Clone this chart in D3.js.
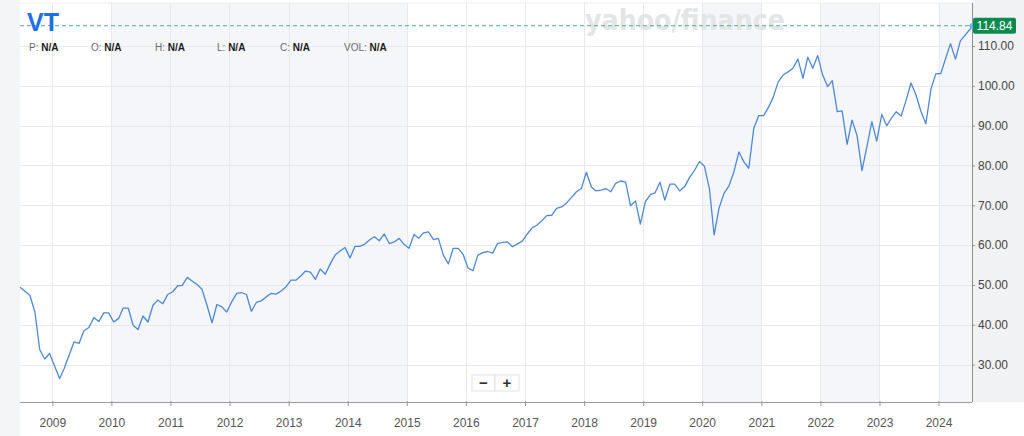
<!DOCTYPE html>
<html>
<head>
<meta charset="utf-8">
<script src="https://cdn.jsdelivr.net/npm/d3@7"></script>
<style>
  html, body { margin: 0; padding: 0; background: #ffffff; }
  svg { display: block; font-family: Arial, "Liberation Sans", Helvetica, sans-serif; }
</style>
</head>
<body>
<svg id="chart" width="1024" height="436"></svg>
<script>
// ---- data ----
const ticker = "VT";
const lastPrice = 114.84;
const startMonth = "2008-06";
const prices = [
  // 2008 Jun-Dec
  49.4, 48.4, 47.4, 43.2, 33.8, 31.4, 32.8,
  // 2009
  29.6, 26.5, 29.0, 32.4, 35.7, 35.3, 38.5, 39.3, 41.8, 40.8, 43.0, 43.0,
  // 2010
  40.7, 41.6, 44.2, 44.2, 39.9, 38.8, 42.2, 40.7, 44.9, 46.2, 45.3, 47.6,
  // 2011
  48.3, 49.8, 49.9, 51.9, 51.0, 50.1, 48.9, 44.9, 40.5, 45.1, 44.5, 43.2,
  // 2012
  45.8, 47.9, 48.1, 47.6, 43.4, 45.6, 46.0, 47.0, 47.9, 47.7, 48.5, 49.5,
  // 2013
  51.2, 51.2, 52.2, 53.5, 53.2, 51.4, 54.0, 52.7, 55.3, 57.5, 58.5, 59.4,
  // 2014
  56.8, 59.7, 59.7, 60.2, 61.3, 62.1, 61.1, 62.8, 60.4, 60.8, 61.7, 60.2,
  // 2015
  59.2, 62.7, 61.7, 63.1, 63.3, 61.4, 61.7, 57.5, 55.3, 59.2, 59.2, 57.7,
  // 2016
  54.2, 53.6, 57.5, 58.1, 58.4, 58.0, 60.4, 60.7, 60.8, 59.6, 60.3, 61.0,
  // 2017
  62.8, 64.4, 65.0, 66.1, 67.4, 67.5, 69.2, 69.6, 70.6, 72.0, 73.4, 74.2,
  // 2018
  78.3, 74.6, 73.6, 73.8, 74.2, 73.4, 75.5, 76.1, 75.8, 69.9, 71.1, 65.3,
  // 2019
  70.9, 72.7, 73.1, 75.8, 71.3, 75.3, 75.3, 73.6, 74.7, 77.0, 78.8, 81.0,
  // 2020
  79.8, 74.1, 62.6, 69.4, 73.0, 74.9, 78.4, 83.4, 80.9, 79.3, 89.3, 92.5,
  // 2021
  92.5, 94.7, 97.1, 101.0, 102.7, 103.5, 104.4, 106.7, 101.9, 107.2, 104.4, 107.6,
  // 2022
  102.7, 99.8, 101.3, 93.5, 93.7, 85.3, 91.4, 87.6, 78.7, 84.7, 91.0, 86.1,
  // 2023
  92.8, 90.0, 91.8, 93.5, 92.4, 96.4, 100.7, 97.7, 93.5, 90.5, 99.1, 103.0,
  // 2024 Jan-Jul
  103.1, 107.0, 110.6, 106.7, 111.3, 112.8, 114.84
];
const yearTicks = [2009, 2010, 2011, 2012, 2013, 2014, 2015, 2016, 2017, 2018, 2019, 2020, 2021, 2022, 2023, 2024];
const priceTicks = [30, 40, 50, 60, 70, 80, 90, 100, 110];
const shadedPeriods = [[2010, 2015], [2020, 2021], [2022, 2023], [2024, 2025]];
const infoLabels = [["P:", "N/A"], ["O:", "N/A"], ["H:", "N/A"], ["L:", "N/A"], ["C:", "N/A"], ["VOL:", "N/A"]];

(function () {
// ---- build series ----
const parseM = d3.timeParse("%Y-%m");
const first = d3.timeDay.offset(parseM(startMonth), 14);
const series = prices.map((v, i) => ({ date: d3.timeMonth.offset(first, i), value: v }));
series[series.length - 1].date = new Date(2024, 6, 26);

const svg = d3.select("#chart");
const W = 1024, H = 436;
const pL = 20, pR = 972, pT = 3, pB = 402;

const x = d3.scaleTime()
  .domain([series[0].date, series[series.length - 1].date])
  .range([pL, pR]);
const y = d3.scaleLinear().domain([30, 110]).range([364.6, 46]);

// backgrounds
svg.append("rect").attr("x", 0).attr("y", 0).attr("width", pL).attr("height", H).attr("fill", "#f4f5f7");
svg.append("rect").attr("x", pR).attr("y", 0).attr("width", W - pR).attr("height", pB).attr("fill", "#f1f2f4");

// shaded periods
svg.append("g").selectAll("rect").data(shadedPeriods).join("rect")
  .attr("x", d => Math.max(pL, x(new Date(d[0], 0, 1))))
  .attr("width", d => Math.min(pR, x(new Date(d[1], 0, 1))) - Math.max(pL, x(new Date(d[0], 0, 1))))
  .attr("y", pT).attr("height", pB - pT)
  .attr("fill", "#f4f6fa");

// top border
svg.append("line").attr("x1", pL).attr("x2", pR).attr("y1", pT).attr("y2", pT)
  .attr("stroke", "#eceef1");

// horizontal grid
svg.append("g").selectAll("line").data(priceTicks).join("line")
  .attr("x1", pL).attr("x2", pR)
  .attr("y1", d => Math.round(y(d)) + 0.5).attr("y2", d => Math.round(y(d)) + 0.5)
  .attr("stroke", "#e7e9ee").attr("stroke-width", 1);

// vertical grid
svg.append("g").selectAll("line").data(yearTicks).join("line")
  .attr("x1", d => Math.round(x(new Date(d, 0, 1))) + 0.5)
  .attr("x2", d => Math.round(x(new Date(d, 0, 1))) + 0.5)
  .attr("y1", pT).attr("y2", pB)
  .attr("stroke", "#e7e9ee").attr("stroke-width", 1);

// watermark
svg.append("text").attr("x", 585).attr("y", 30)
  .attr("font-size", 28).attr("font-weight", 900).attr("fill", "#e4e5e7")
  .attr("font-family", "'DejaVu Sans', Arial, sans-serif")
  .attr("textLength", 200).attr("lengthAdjust", "spacingAndGlyphs")
  .text("yahoo/finance");

// x axis
const xAxis = d3.axisBottom(x)
  .tickValues(yearTicks.map(yr => new Date(yr, 0, 1)))
  .tickFormat(d3.timeFormat("%Y"))
  .tickSize(5).tickSizeOuter(0);
const gx = svg.append("g").attr("transform", `translate(0,${pB})`).call(xAxis);
gx.select(".domain").attr("stroke", "#9a9a9a").attr("d", `M${pL},0.5H${pR}`);
gx.selectAll(".tick line").attr("stroke", "#9a9a9a").attr("y1", -1).attr("y2", 4);
gx.selectAll(".tick text").attr("fill", "#555").attr("font-size", 12).attr("dy", "1.45em")
  .attr("font-family", "Arial, 'Liberation Sans', sans-serif");

// y axis
const yAxis = d3.axisRight(y).tickValues(priceTicks).tickFormat(d3.format(".2f")).tickSize(3).tickSizeOuter(0);
const gy = svg.append("g").attr("transform", `translate(${pR},0)`).call(yAxis);
gy.select(".domain").attr("stroke", "#8f8f8f").attr("d", `M0.5,${pT}V${pB}`);
gy.selectAll(".tick line").attr("stroke", "#8f8f8f");
gy.selectAll(".tick text").attr("fill", "#464646").attr("font-size", 12).attr("x", 6)
  .attr("font-family", "Arial, 'Liberation Sans', sans-serif");

// price line
const line = d3.line().x(d => x(d.date)).y(d => y(d.value));
svg.append("path").datum(series).attr("d", line)
  .attr("fill", "none").attr("stroke", "#4d88d6").attr("stroke-width", 1.3)
  .attr("stroke-linejoin", "round");

// last price dashed line
const yLast = y(lastPrice) - 1;
svg.append("line").attr("x1", pL).attr("x2", pR).attr("y1", yLast).attr("y2", yLast)
  .attr("stroke", "#53ab8c").attr("stroke-width", 1).attr("stroke-dasharray", "4,3");
svg.append("circle").attr("cx", pR).attr("cy", yLast).attr("r", 2.5).attr("fill", "#5db4e6");

// price badge
svg.append("rect").attr("x", pR + 1).attr("y", yLast - 8).attr("width", 43).attr("height", 16)
  .attr("rx", 2).attr("fill", "#0c8a4f");
svg.append("text").attr("x", pR + 22.5).attr("y", yLast + 4.3).attr("text-anchor", "middle")
  .attr("fill", "#fff").attr("font-size", 12).attr("font-family", "Arial, 'Liberation Sans', sans-serif")
  .text(d3.format(".2f")(lastPrice));

// title
svg.append("text").attr("x", 27).attr("y", 31).attr("font-size", 25).attr("font-weight", 600)
  .attr("fill", "#1f6fe5").attr("font-family", "Arial, 'Liberation Sans', sans-serif").text(ticker);

// info row
const infoX = [29, 91, 155, 217, 280, 344];
const info = svg.append("g").attr("font-size", 10).attr("font-family", "Arial, 'Liberation Sans', sans-serif");
infoLabels.forEach((d, i) => {
  const t = info.append("text").attr("x", infoX[i]).attr("y", 51);
  t.append("tspan").attr("fill", "#6b6b6b").text(d[0] + " ");
  t.append("tspan").attr("fill", "#1b1b1b").attr("font-weight", 700).text(d[1]);
});

// zoom buttons
const zb = svg.append("g");
zb.append("rect").attr("x", 472).attr("y", 375).attr("width", 23).attr("height", 16)
  .attr("fill", "#fff").attr("stroke", "#e3e3e3");
zb.append("rect").attr("x", 495).attr("y", 375).attr("width", 24).attr("height", 16)
  .attr("fill", "#fff").attr("stroke", "#e3e3e3");
zb.append("text").attr("x", 483.5).attr("y", 387.5).attr("text-anchor", "middle")
  .attr("font-size", 15).attr("font-weight", 700).attr("fill", "#333").text("−");
zb.append("text").attr("x", 507).attr("y", 387.5).attr("text-anchor", "middle")
  .attr("font-size", 15).attr("font-weight", 700).attr("fill", "#333").text("+");
})();
</script>
</body>
</html>
